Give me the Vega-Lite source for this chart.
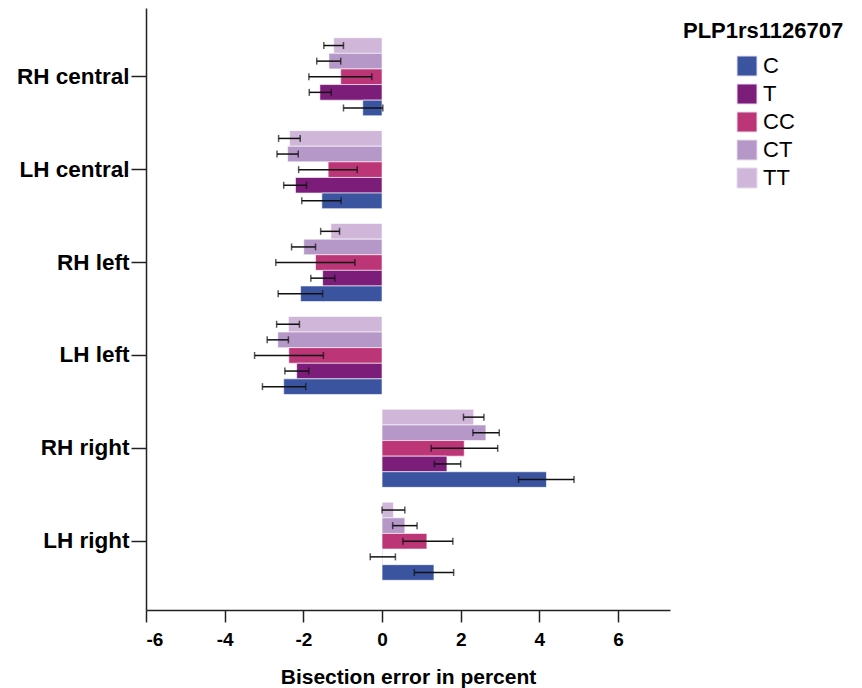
{
  "$schema": "https://vega.github.io/schema/vega-lite/v6.json",
  "width": 524,
  "height": 602,
  "autosize": "none",
  "padding": {"left": 146, "top": 8, "right": 192, "bottom": 78},
  "background": "white",
  "config": {"view": {"stroke": null}, "font": "Liberation Sans"},
  "data": {"values": [
    {"region": "RH central", "genotype": "TT", "mean": -1.23, "lo": -1.48, "hi": -0.98},
    {"region": "RH central", "genotype": "CT", "mean": -1.35, "lo": -1.66, "hi": -1.05},
    {"region": "RH central", "genotype": "CC", "mean": -1.05, "lo": -1.86, "hi": -0.26},
    {"region": "RH central", "genotype": "T", "mean": -1.58, "lo": -1.85, "hi": -1.29},
    {"region": "RH central", "genotype": "C", "mean": -0.49, "lo": -0.98, "hi": 0.02},
    {"region": "LH central", "genotype": "TT", "mean": -2.35, "lo": -2.63, "hi": -2.08},
    {"region": "LH central", "genotype": "CT", "mean": -2.40, "lo": -2.67, "hi": -2.13},
    {"region": "LH central", "genotype": "CC", "mean": -1.37, "lo": -2.12, "hi": -0.63},
    {"region": "LH central", "genotype": "T", "mean": -2.20, "lo": -2.50, "hi": -1.92},
    {"region": "LH central", "genotype": "C", "mean": -1.53, "lo": -2.04, "hi": -1.04},
    {"region": "RH left", "genotype": "TT", "mean": -1.30, "lo": -1.56, "hi": -1.08},
    {"region": "RH left", "genotype": "CT", "mean": -1.99, "lo": -2.30, "hi": -1.69},
    {"region": "RH left", "genotype": "CC", "mean": -1.69, "lo": -2.70, "hi": -0.69},
    {"region": "RH left", "genotype": "T", "mean": -1.51, "lo": -1.81, "hi": -1.20},
    {"region": "RH left", "genotype": "C", "mean": -2.07, "lo": -2.64, "hi": -1.51},
    {"region": "LH left", "genotype": "TT", "mean": -2.38, "lo": -2.68, "hi": -2.10},
    {"region": "LH left", "genotype": "CT", "mean": -2.65, "lo": -2.92, "hi": -2.38},
    {"region": "LH left", "genotype": "CC", "mean": -2.37, "lo": -3.24, "hi": -1.49},
    {"region": "LH left", "genotype": "T", "mean": -2.17, "lo": -2.47, "hi": -1.86},
    {"region": "LH left", "genotype": "C", "mean": -2.50, "lo": -3.04, "hi": -1.94},
    {"region": "RH right", "genotype": "TT", "mean": 2.33, "lo": 2.07, "hi": 2.59},
    {"region": "RH right", "genotype": "CT", "mean": 2.64, "lo": 2.31, "hi": 2.98},
    {"region": "RH right", "genotype": "CC", "mean": 2.09, "lo": 1.25, "hi": 2.94},
    {"region": "RH right", "genotype": "T", "mean": 1.65, "lo": 1.33, "hi": 2.00},
    {"region": "RH right", "genotype": "C", "mean": 4.18, "lo": 3.47, "hi": 4.88},
    {"region": "LH right", "genotype": "TT", "mean": 0.29, "lo": 0.00, "hi": 0.58},
    {"region": "LH right", "genotype": "CT", "mean": 0.58, "lo": 0.27, "hi": 0.89},
    {"region": "LH right", "genotype": "CC", "mean": 1.14, "lo": 0.53, "hi": 1.80},
    {"region": "LH right", "genotype": "T", "mean": 0.01, "lo": -0.30, "hi": 0.34},
    {"region": "LH right", "genotype": "C", "mean": 1.32, "lo": 0.82, "hi": 1.82}
  ]},
  "encoding": {
    "y": {
      "field": "region", "type": "nominal",
      "sort": ["RH central", "LH central", "RH left", "LH left", "RH right", "LH right"],
      "scale": {"paddingInner": 0.16, "paddingOuter": 0.32},
      "axis": {
        "title": null, "domainColor": "#222", "domainWidth": 1.5, "tickColor": "#222", "tickWidth": 1.5,
        "tickSize": 15, "labelFontSize": 22.5, "labelFontWeight": "bold", "labelColor": "#000", "labelPadding": 2
      }
    },
    "yOffset": {"field": "genotype", "type": "nominal", "sort": ["TT", "CT", "CC", "T", "C"], "scale": {"paddingInner": 0, "paddingOuter": 0}}
  },
  "layer": [
    {
      "mark": {"type": "bar", "stroke": "#ffffff", "strokeOpacity": 0.6, "strokeWidth": 1},
      "encoding": {
        "x": {
          "field": "mean", "type": "quantitative",
          "scale": {"domain": [-6, 7.32], "nice": false, "zero": false},
          "axis": {
            "values": [-6, -4, -2, 0, 2, 4, 6], "grid": false, "title": "Bisection error in percent",
            "labelExpr": "datum.value < 0 ? '-' + abs(datum.value) : '' + datum.value",
            "domainColor": "#222", "domainWidth": 1.5, "tickColor": "#222", "tickWidth": 1.5, "tickSize": 12,
            "labelFontSize": 19, "labelFontWeight": "bold", "labelColor": "#000", "labelPadding": 8,
            "titleFontSize": 21, "titleFontWeight": "bold", "titleColor": "#000", "titlePadding": 17
          }
        },
        "color": {
          "field": "genotype", "type": "nominal",
          "scale": {"domain": ["C", "T", "CC", "CT", "TT"], "range": ["#3b54a0", "#7c1d7a", "#bb3577", "#b698c8", "#d0b6d8"]},
          "legend": {
            "title": "PLP1rs1126707", "orient": "none", "legendX": 537, "legendY": 13,
            "titleFontSize": 22, "titleFontWeight": "bold", "titleColor": "#000", "titlePadding": 12,
            "symbolType": "square", "symbolSize": 400, "symbolOffset": 53, "symbolStrokeColor": "#e6def0", "symbolStrokeWidth": 1,
            "labelFontSize": 22, "labelColor": "#000", "labelOffset": 5, "rowPadding": 4
          }
        }
      }
    },
    {
      "mark": {"type": "rule", "color": "#111", "strokeWidth": 1.5},
      "encoding": {"x": {"field": "lo", "type": "quantitative"}, "x2": {"field": "hi"}}
    },
    {
      "mark": {"type": "tick", "color": "#111", "thickness": 1.5, "size": 7},
      "encoding": {"x": {"field": "lo", "type": "quantitative"}}
    },
    {
      "mark": {"type": "tick", "color": "#111", "thickness": 1.5, "size": 7},
      "encoding": {"x": {"field": "hi", "type": "quantitative"}}
    }
  ]
}
